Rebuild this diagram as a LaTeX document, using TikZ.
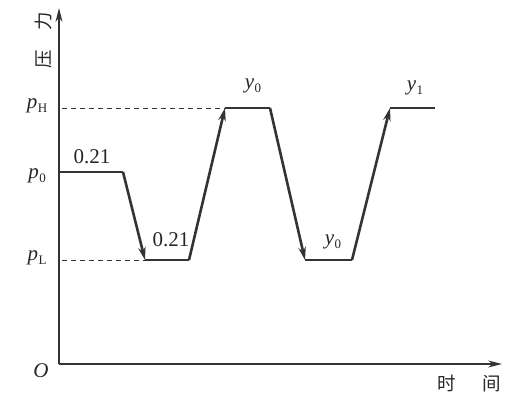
\documentclass[tikz,border=0pt]{standalone}
\usepackage{fontspec}
\setmainfont{Liberation Serif}
\newfontfamily\cjk{Noto Sans CJK SC}
\usetikzlibrary{arrows.meta}
\newcommand{\lvl}[2]{{\itshape #1}\kern0.5pt\raisebox{-3.5pt}{\fontsize{13}{13}\selectfont #2}}
\begin{document}
\begin{tikzpicture}[x=1pt,y=-1pt,
  axis/.style={line width=1.4pt,draw=black!80,-{Stealth[length=14pt,width=7pt]}},
  curve/.style={line width=2.6pt,draw=black!80},
  arr/.style={curve,-{Stealth[length=13pt,width=7.5pt]}},
  guide/.style={line width=1pt,draw=black!80,dash pattern=on 5pt off 4pt},
  lbl/.style={font=\fontsize{21}{23}\selectfont,inner sep=0pt,text=black!85},
  cjklbl/.style={font=\cjk\fontsize{18.5}{20}\selectfont,inner sep=0pt,text=black!85}]
\useasboundingbox (0,0) rectangle (505,404);
% axes
\coordinate (O) at (59,364);
\coordinate (ytip) at (59,8);
\coordinate (xtip) at (502,364);
\draw[axis] (O) -- (ytip);
\draw[axis] (O) -- (xtip);
\node[lbl] (olbl) at (41,371) {\itshape O};
\node[cjklbl,rotate=90] (ylbl) at (44,40) {压\hspace{20pt}力};
\node[cjklbl] (xlbl) at (469,384) {时\hspace{27pt}间};
% levels
\node[lbl] (pH) at (37,106) {\lvl{p}{H}};
\node[lbl] (p0) at (37,176) {\lvl{p}{0}};
\node[lbl] (pL) at (37,258) {\lvl{p}{L}};
% path corners
\coordinate (a0) at (59,172);
\coordinate (a1) at (123,172);
\coordinate (b0) at (145,260);
\coordinate (b1) at (189,260);
\coordinate (c0) at (225,108);
\coordinate (c1) at (270,108);
\coordinate (d0) at (305,260);
\coordinate (d1) at (352,260);
\coordinate (e0) at (390,108);
\coordinate (e1) at (435,108);
\coordinate (gH) at (62,108);
\coordinate (gL) at (62,260);
\draw[guide] (gH) -- (c0);
\draw[guide] (gL) -- (b0);
\draw[curve] (a0) -- (a1);
\draw[arr] (a1) -- (b0);
\draw[curve] (b0) -- (b1);
\draw[arr] (b1) -- (c0);
\draw[curve] (c0) -- (c1);
\draw[arr] (c1) -- (d0);
\draw[curve] (d0) -- (d1);
\draw[arr] (d1) -- (e0);
\draw[curve] (e0) -- (e1);
% labels
\node[lbl] (l1) at (92,157) {0.21};
\node[lbl] (l2) at (171,240) {0.21};
\node[lbl] (l3) at (253,86) {\lvl{y}{0}};
\node[lbl] (l4) at (333,242) {\lvl{y}{0}};
\node[lbl] (l5) at (415,88) {\lvl{y}{1}};
\end{tikzpicture}
\end{document}
